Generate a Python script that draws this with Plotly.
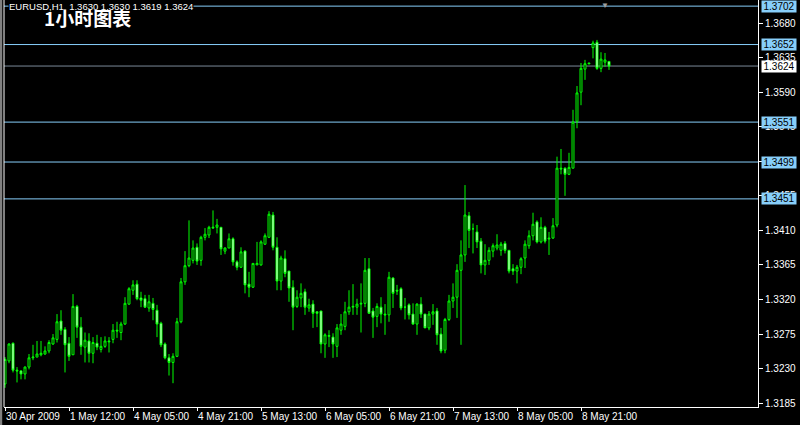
import plotly.graph_objects as go

# ---- data (EURUSD H1) ----
opens = [1.3210,1.3240,1.3263,1.3228,1.3227,1.3223,1.3232,1.3244,1.3245,1.3248,
         1.3249,1.3253,1.3262,1.3268,1.3292,1.3281,1.3263,1.3248,1.3311,1.3284,
         1.3258,1.3266,1.3250,1.3263,1.3255,1.3259,1.3266,1.3268,1.3280,1.3277,
         1.3288,1.3314,1.3332,1.3340,1.3322,1.3321,1.3309,1.3315,1.3306,1.3289,
         1.3262,1.3244,1.3238,1.3246,1.3291,1.3343,1.3364,1.3371,1.3388,1.3371,
         1.3401,1.3404,1.3413,1.3414,1.3414,1.3383,1.3387,1.3399,1.3369,1.3362,
         1.3383,1.3340,1.3336,1.3365,1.3365,1.3392,1.3401,1.3430,1.3388,1.3344,
         1.3373,1.3357,1.3336,1.3311,1.3322,1.3330,1.3309,1.3314,1.3304,1.3305,
         1.3262,1.3272,1.3271,1.3259,1.3280,1.3285,1.3304,1.3310,1.3310,1.3314,
         1.3315,1.3360,1.3305,1.3298,1.3310,1.3301,1.3300,1.3348,1.3332,1.3334,
         1.3310,1.3313,1.3301,1.3288,1.3314,1.3301,1.3283,1.3301,1.3305,1.3275,
         1.3254,1.3294,1.3318,1.3323,1.3358,1.3378,1.3429,1.3412,1.3408,1.3396,
         1.3365,1.3371,1.3383,1.3387,1.3384,1.3393,1.3384,1.3360,1.3357,1.3362,
         1.3374,1.3390,1.3403,1.3421,1.3395,1.3414,1.3400,1.3400,1.3417,1.3491,
         1.3491,1.3483,1.3491,1.3552,1.3590,1.3620,1.3628,1.3648,1.3655,1.3621,
         1.3629,1.3630]
highs = [1.3245,1.3263,1.3264,1.3232,1.3228,1.3233,1.3249,1.3261,1.3266,1.3266,
         1.3259,1.3267,1.3275,1.3301,1.3306,1.3284,1.3271,1.3327,1.3313,1.3297,
         1.3277,1.3276,1.3271,1.3274,1.3271,1.3272,1.3271,1.3288,1.3291,1.3291,
         1.3323,1.3336,1.3345,1.3345,1.3330,1.3326,1.3326,1.3322,1.3313,1.3291,
         1.3264,1.3249,1.3250,1.3296,1.3348,1.3383,1.3423,1.3397,1.3393,1.3403,
         1.3413,1.3416,1.3436,1.3425,1.3414,1.3388,1.3406,1.3401,1.3371,1.3388,
         1.3384,1.3356,1.3367,1.3395,1.3397,1.3406,1.3435,1.3434,1.3401,1.3377,
         1.3384,1.3357,1.3345,1.3332,1.3341,1.3334,1.3321,1.3319,1.3304,1.3305,
         1.3276,1.3280,1.3276,1.3288,1.3301,1.3317,1.3332,1.3340,1.3321,1.3341,
         1.3374,1.3374,1.3309,1.3315,1.3323,1.3314,1.3356,1.3349,1.3339,1.3336,
         1.3322,1.3315,1.3315,1.3315,1.3323,1.3301,1.3305,1.3314,1.3309,1.3283,
         1.3296,1.3326,1.3341,1.3366,1.3397,1.3469,1.3434,1.3419,1.3417,1.3400,
         1.3392,1.3388,1.3393,1.3405,1.3395,1.3396,1.3384,1.3366,1.3365,1.3375,
         1.3397,1.3410,1.3433,1.3423,1.3427,1.3416,1.3408,1.3426,1.3506,1.3516,
         1.3492,1.3511,1.3567,1.3598,1.3628,1.3632,1.3628,1.3657,1.3658,1.3642,
         1.3641,1.3630]
lows = [1.3205,1.3237,1.3225,1.3212,1.3216,1.3216,1.3229,1.3241,1.3245,1.3246,
        1.3248,1.3250,1.3261,1.3264,1.3274,1.3225,1.3240,1.3248,1.3270,1.3248,
        1.3238,1.3238,1.3237,1.3254,1.3251,1.3257,1.3251,1.3263,1.3270,1.3267,
        1.3287,1.3313,1.3326,1.3319,1.3310,1.3309,1.3304,1.3293,1.3271,1.3258,
        1.3242,1.3221,1.3211,1.3245,1.3289,1.3339,1.3362,1.3367,1.3365,1.3364,
        1.3397,1.3400,1.3412,1.3406,1.3378,1.3379,1.3387,1.3364,1.3358,1.3361,
        1.3328,1.3323,1.3335,1.3365,1.3364,1.3391,1.3400,1.3384,1.3332,1.3332,
        1.3349,1.3317,1.3280,1.3309,1.3310,1.3300,1.3304,1.3283,1.3284,1.3250,
        1.3244,1.3258,1.3244,1.3245,1.3274,1.3280,1.3300,1.3300,1.3300,1.3277,
        1.3310,1.3302,1.3270,1.3284,1.3289,1.3274,1.3291,1.3309,1.3326,1.3306,
        1.3294,1.3294,1.3287,1.3274,1.3296,1.3283,1.3280,1.3287,1.3261,1.3250,
        1.3250,1.3292,1.3309,1.3296,1.3261,1.3369,1.3387,1.3380,1.3387,1.3354,
        1.3352,1.3365,1.3375,1.3384,1.3377,1.3380,1.3354,1.3352,1.3341,1.3353,
        1.3361,1.3386,1.3397,1.3393,1.3393,1.3393,1.3378,1.3399,1.3414,1.3483,
        1.3455,1.3482,1.3491,1.3543,1.3573,1.3606,1.3627,1.3634,1.3619,1.3616,
        1.3623,1.3619]
closes = [1.3242,1.3262,1.3228,1.3227,1.3223,1.3232,1.3244,1.3245,1.3249,1.3250,
          1.3253,1.3264,1.3270,1.3291,1.3280,1.3261,1.3246,1.3311,1.3284,1.3259,
          1.3267,1.3250,1.3264,1.3258,1.3259,1.3266,1.3265,1.3280,1.3279,1.3288,
          1.3315,1.3334,1.3339,1.3321,1.3319,1.3310,1.3317,1.3307,1.3288,1.3261,
          1.3244,1.3238,1.3246,1.3291,1.3343,1.3364,1.3374,1.3387,1.3370,1.3401,
          1.3405,1.3414,1.3414,1.3417,1.3386,1.3387,1.3399,1.3369,1.3362,1.3382,
          1.3339,1.3336,1.3367,1.3367,1.3395,1.3403,1.3431,1.3388,1.3344,1.3374,
          1.3354,1.3335,1.3310,1.3323,1.3328,1.3310,1.3313,1.3302,1.3302,1.3262,
          1.3274,1.3273,1.3262,1.3283,1.3288,1.3304,1.3310,1.3311,1.3314,1.3315,
          1.3358,1.3302,1.3297,1.3311,1.3301,1.3300,1.3349,1.3328,1.3331,1.3309,
          1.3310,1.3300,1.3288,1.3314,1.3301,1.3283,1.3301,1.3304,1.3274,1.3253,
          1.3294,1.3318,1.3323,1.3358,1.3378,1.3430,1.3410,1.3412,1.3395,1.3365,
          1.3371,1.3384,1.3390,1.3391,1.3392,1.3384,1.3357,1.3357,1.3362,1.3373,
          1.3392,1.3403,1.3418,1.3395,1.3414,1.3396,1.3399,1.3416,1.3491,1.3490,
          1.3483,1.3492,1.3551,1.3589,1.3621,1.3627,1.3627,1.3654,1.3621,1.3633,
          1.3632,1.3624]

tick_index = [0, 16, 32, 48, 64, 80, 96, 112, 128, 144]
tick_labels = ["30 Apr 2009", "1 May 12:00", "4 May 05:00", "4 May 21:00",
               "5 May 13:00", "6 May 05:00", "6 May 21:00", "7 May 13:00",
               "8 May 05:00", "8 May 21:00"]
price_ticks = [1.3680, 1.3635, 1.3590, 1.3545, 1.3500, 1.3455,
               1.3410, 1.3365, 1.3320, 1.3275, 1.3230, 1.3185]
levels = [1.3702, 1.3652, 1.3551, 1.3499, 1.3451]
current_price = closes[-1]

bars = list(range(len(opens)))

GREEN = "#00FF00"
LEVEL_BLUE = "#87CEFA"
CUR_GRAY = "#7A8A99"
FONT = "Liberation Sans, Arial, sans-serif"

fig = go.Figure()
fig.add_trace(go.Candlestick(
    x=bars, open=opens, high=highs, low=lows, close=closes,
    increasing=dict(line=dict(color=GREEN, width=1), fillcolor="black"),
    decreasing=dict(line=dict(color=GREEN, width=1), fillcolor="white"),
    whiskerwidth=0, hoverinfo="skip", showlegend=False,
))

shapes = []
for lv in levels:
    shapes.append(dict(type="line", xref="paper", yref="y", x0=0, x1=1, y0=lv, y1=lv,
                       line=dict(color=LEVEL_BLUE, width=1), layer="below"))
shapes.append(dict(type="line", xref="paper", yref="y", x0=0, x1=1,
                   y0=current_price, y1=current_price,
                   line=dict(color=CUR_GRAY, width=1), layer="below"))
# left window border
shapes.append(dict(type="line", xref="paper", yref="paper", x0=0, x1=0, y0=0, y1=1,
                   line=dict(color="white", width=1)))
shapes.append(dict(type="rect", xref="paper", yref="paper", x0=-4/754, x1=-1.8/754,
                   y0=-18/407, y1=1, fillcolor="#808080", line=dict(width=0)))

annotations = []
for lv in levels:
    annotations.append(dict(x=1, xref="paper", y=lv, yref="y", xanchor="left",
                            yanchor="middle", xshift=3, text=f"{lv:.4f}",
                            showarrow=False, bgcolor=LEVEL_BLUE, borderpad=0,
                            width=34, height=11,
                            font=dict(color="black", size=10, family=FONT)))
annotations.append(dict(x=1, xref="paper", y=current_price, yref="y", xanchor="left",
                        yanchor="middle", xshift=3, text=f"{current_price:.4f}",
                        showarrow=False, bgcolor="white", borderpad=0,
                        width=34, height=11,
                        font=dict(color="black", size=10, family=FONT)))
header = "EURUSD,H1&nbsp;&nbsp;{:.4f} {:.4f} {:.4f} {:.4f}".format(
    opens[-1], highs[-1], lows[-1], closes[-1])
annotations.append(dict(x=0, xref="paper", y=1, yref="paper", xanchor="left",
                        yanchor="top", xshift=4, yshift=0, text=header,
                        showarrow=False, bgcolor="black", borderpad=0,
                        font=dict(color="white", size=9.5, family=FONT)))
annotations.append(dict(x=0, xref="paper", y=1, yref="paper", xanchor="left",
                        yanchor="top", xshift=38, yshift=-2, text="<b>1小时图表</b>",
                        showarrow=False,
                        font=dict(color="white", size=19, family="Noto Sans CJK SC")))
annotations.append(dict(x=150, xref="x", y=1, yref="paper", xanchor="center",
                        yanchor="top", yshift=3, text="▼", showarrow=False,
                        font=dict(color="#A0A0A0", size=8)))

fig.update_layout(
    width=800, height=425,
    margin=dict(l=4, r=42, t=0, b=18, pad=0, autoexpand=False),
    paper_bgcolor="black", plot_bgcolor="black",
    shapes=shapes, annotations=annotations,
    boxgap=0.3,
    xaxis=dict(range=[-0.25, 188.25], rangeslider=dict(visible=False),
               automargin=False, tickangle=0,
               showgrid=False, zeroline=False,
               showline=True, linecolor="white", linewidth=1,
               ticks="outside", ticklen=3, tickcolor="white",
               tickvals=tick_index, ticktext=tick_labels,
               ticklabelposition="outside right",
               tickfont=dict(color="white", size=10, family=FONT)),
    yaxis=dict(range=[1.3180, 1.3710], side="right", automargin=False,
               showgrid=False, zeroline=False,
               showline=True, linecolor="white", linewidth=1,
               ticks="outside", ticklen=4, tickcolor="white",
               tickvals=price_ticks, ticktext=[f"{p:.4f}" for p in price_ticks],
               tickfont=dict(color="white", size=10, family=FONT)),
)

fig.write_html(
    "out.html",
    config={"displayModeBar": False},
    post_script="document.body.style.margin='0';document.body.style.padding='0';"
                "document.body.style.background='black';",
)
